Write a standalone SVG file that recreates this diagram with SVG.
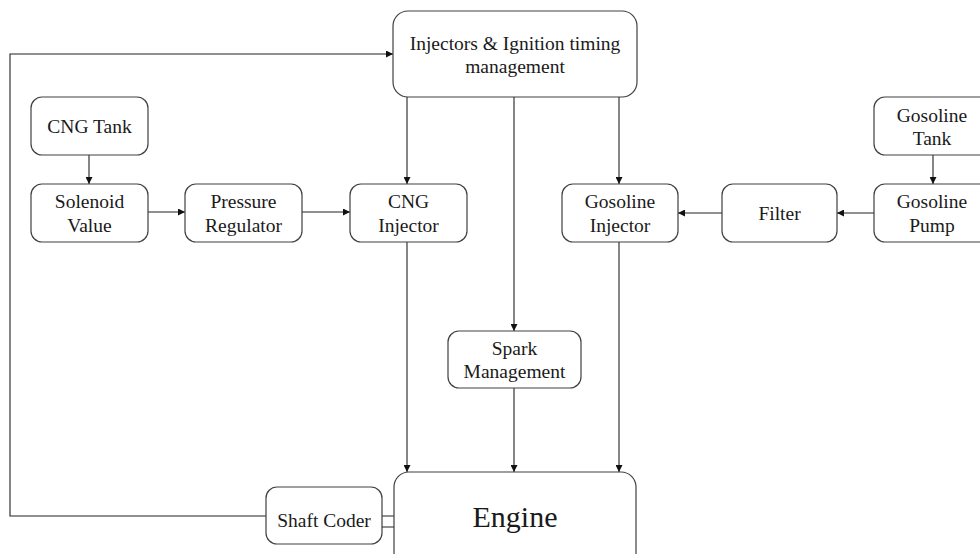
<svg xmlns="http://www.w3.org/2000/svg" width="980" height="554" viewBox="0 0 980 554">
<style>
.box{fill:#fff;stroke:#404040;stroke-width:1.2}
.t{font-family:"Liberation Serif","Times New Roman",serif;font-size:19.5px;fill:#1a1a1a;text-anchor:middle}
.big{font-size:30px}
.c{fill:none;stroke:#222;stroke-width:1.1}
</style>
<defs>
<marker id="a" viewBox="0 0 10 10" refX="10" refY="5" markerWidth="7" markerHeight="7" markerUnits="userSpaceOnUse" orient="auto">
<path d="M0,0 L10,5 L0,10 z" fill="#111"/>
</marker>
</defs>
<rect width="980" height="554" fill="#fff"/>
<g id="connectors">
<path class="c" d="M266,516 H10 V54 H393" marker-end="url(#a)"/>
<path class="c" d="M89,155 V184" marker-end="url(#a)"/>
<path class="c" d="M148,212 H185" marker-end="url(#a)"/>
<path class="c" d="M302,212 H350" marker-end="url(#a)"/>
<path class="c" d="M407,97 V184" marker-end="url(#a)"/>
<path class="c" d="M514,97 V331" marker-end="url(#a)"/>
<path class="c" d="M619,97 V184" marker-end="url(#a)"/>
<path class="c" d="M933,155 V184" marker-end="url(#a)"/>
<path class="c" d="M874,213 H837" marker-end="url(#a)"/>
<path class="c" d="M722,213 H678" marker-end="url(#a)"/>
<path class="c" d="M407,242 V472" marker-end="url(#a)"/>
<path class="c" d="M514,388 V472" marker-end="url(#a)"/>
<path class="c" d="M619,242 V472" marker-end="url(#a)"/>
<path class="c" d="M382,516 H394 M382,527 H394"/>
</g>
<g id="injectors-mgmt">
<rect class="box" x="393" y="11" width="244" height="86" rx="15"/>
<text class="t" x="515" y="50">Injectors &amp; Ignition timing</text>
<text class="t" x="515" y="73">management</text>
</g>
<g id="cng-tank">
<rect class="box" x="31" y="97" width="117" height="58" rx="11"/>
<text class="t" x="89.5" y="133">CNG Tank</text>
</g>
<g id="solenoid">
<rect class="box" x="31" y="184" width="117" height="58" rx="11"/>
<text class="t" x="89.5" y="208">Solenoid</text>
<text class="t" x="89.5" y="232">Value</text>
</g>
<g id="pressure-regulator">
<rect class="box" x="185" y="184" width="117" height="58" rx="11"/>
<text class="t" x="243.5" y="208">Pressure</text>
<text class="t" x="243.5" y="232">Regulator</text>
</g>
<g id="cng-injector">
<rect class="box" x="350" y="184" width="117" height="58" rx="11"/>
<text class="t" x="408.5" y="208">CNG</text>
<text class="t" x="408.5" y="232">Injector</text>
</g>
<g id="gasoline-injector">
<rect class="box" x="562" y="184" width="116" height="58" rx="11"/>
<text class="t" x="620" y="208">Gosoline</text>
<text class="t" x="620" y="232">Injector</text>
</g>
<g id="filter">
<rect class="box" x="722" y="184" width="115" height="58" rx="11"/>
<text class="t" x="779.5" y="220">Filter</text>
</g>
<g id="gasoline-tank">
<rect class="box" x="874" y="97" width="117" height="58" rx="11"/>
<text class="t" x="932" y="122">Gosoline</text>
<text class="t" x="932" y="145">Tank</text>
</g>
<g id="gasoline-pump">
<rect class="box" x="874" y="184" width="117" height="58" rx="11"/>
<text class="t" x="932" y="208">Gosoline</text>
<text class="t" x="932" y="232">Pump</text>
</g>
<g id="spark-management">
<rect class="box" x="448" y="331" width="133" height="57" rx="11"/>
<text class="t" x="514.5" y="355">Spark</text>
<text class="t" x="514.5" y="378">Management</text>
</g>
<g id="shaft-coder">
<rect class="box" x="266" y="487" width="116" height="57" rx="11"/>
<text class="t" x="324" y="527">Shaft Coder</text>
</g>
<g id="engine">
<rect class="box" x="394" y="472" width="242" height="100" rx="15"/>
<text class="t big" x="515" y="527">Engine</text>
</g>
</svg>
